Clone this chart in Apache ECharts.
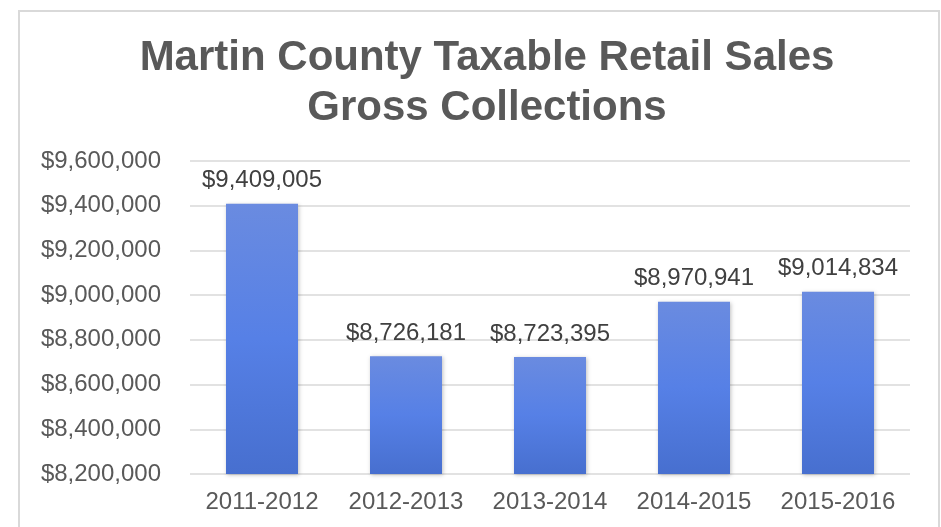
<!DOCTYPE html>
<html>
<head>
<meta charset="utf-8">
<style>
  html, body { margin: 0; padding: 0; background: #fff; }
  #frame { position: absolute; left: 18px; top: 10px; width: 922px; height: 530px; border: 2px solid #d9d9d9; box-sizing: border-box; }
  #chart { position: absolute; left: 0; top: 0; width: 941px; height: 527px; }
</style>
<script src="https://cdn.jsdelivr.net/npm/echarts@6/dist/echarts.min.js"></script>
</head>
<body>
<div id="frame"></div>
<div id="chart"></div>
<script>
// Fiscal years and gross collections (USD)
const years = ['2011-2012', '2012-2013', '2013-2014', '2014-2015', '2015-2016'];
const collections = [9409005, 8726181, 8723395, 8970941, 9014834];
const yTicks = [8200000, 8400000, 8600000, 8800000, 9000000, 9200000, 9400000, 9600000];

const fmt = v => '$' + Math.round(v).toLocaleString('en-US');
const textColor = '#595959';
const font = '"Liberation Sans", Arial, sans-serif';

const chart = echarts.init(document.getElementById('chart'));
chart.setOption({
  animation: false,
  title: {
    text: 'Martin County Taxable Retail Sales\nGross Collections',
    left: 482,
    textAlign: 'center',
    top: 28,
    textStyle: { fontFamily: font, fontSize: 42, fontWeight: 'bold', color: textColor, lineHeight: 50 }
  },
  grid: { left: 190, right: 31, top: 161, bottom: 53, containLabel: false },
  xAxis: {
    type: 'category',
    data: years,
    axisLine: { show: false },
    axisTick: { show: false },
    axisLabel: { color: textColor, fontFamily: font, fontSize: 24, margin: 16, interval: 0 }
  },
  yAxis: {
    type: 'value',
    min: yTicks[0],
    max: yTicks[yTicks.length - 1],
    interval: yTicks[1] - yTicks[0],
    axisLine: { show: false },
    axisTick: { show: false },
    splitLine: { lineStyle: { color: '#d9d9d9', width: 1.5 } },
    axisLabel: { color: textColor, fontFamily: font, fontSize: 24, margin: 29, formatter: fmt }
  },
  series: [{
    type: 'bar',
    data: collections,
    barWidth: '50%',
    itemStyle: {
      color: new echarts.graphic.LinearGradient(0, 0, 0, 1, [
        { offset: 0, color: '#6a8be0' },
        { offset: 0.5, color: '#5680e6' },
        { offset: 1, color: '#476fcf' }
      ]),
      shadowColor: 'rgba(0,0,0,0.25)',
      shadowBlur: 4,
      shadowOffsetX: 1,
      shadowOffsetY: 1
    },
    label: {
      show: true,
      position: 'top',
      distance: 11,
      color: '#404040',
      fontFamily: font,
      fontSize: 24,
      formatter: p => fmt(p.value)
    }
  }]
});
</script>
</body>
</html>
